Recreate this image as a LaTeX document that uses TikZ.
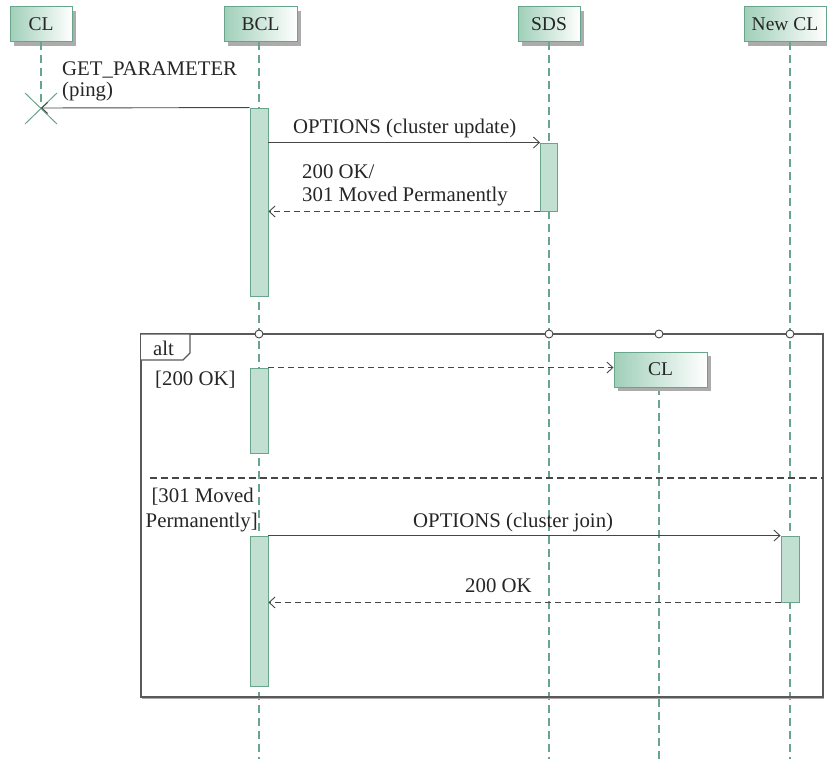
\documentclass[tikz,border=0pt]{standalone}
\usepackage{fontspec}
\setmainfont{Liberation Serif}
\usetikzlibrary{arrows.meta,shadows}
\definecolor{lgreen}{RGB}{105,165,138}
\definecolor{actfill}{RGB}{194,224,210}
\definecolor{hdrfill}{RGB}{160,207,185}
\definecolor{dgray}{RGB}{70,70,70}
\definecolor{shgray}{RGB}{172,172,172}
\tikzset{
  hdr/.style={draw=lgreen, line width=1pt, left color=hdrfill, right color=white,
    minimum height=35pt, inner sep=0pt, font=\fontsize{19.5}{22}\selectfont, text=black!85,
    drop shadow={shadow xshift=4pt, shadow yshift=-4pt, fill=shgray, opacity=1}},
  act/.style={draw=lgreen, fill=actfill, line width=0.9pt, minimum width=18pt, inner sep=0pt},
  life/.style={draw=lgreen, line width=1.1pt, dash pattern=on 8pt off 5pt},
  msg/.style={draw=dgray, line width=0.9pt, -{Straight Barb[length=6pt,width=11pt]}},
  ret/.style={msg, dash pattern=on 6pt off 4pt},
  lbl/.style={font=\fontsize{20.8}{24}\selectfont, inner sep=0pt, text=black!85},
  frm/.style={draw=dgray!90, line width=1.3pt},
  circ/.style={circle, draw=dgray, fill=white, line width=0.9pt, minimum size=8pt, inner sep=0pt},
  sepline/.style={draw=dgray, line width=1.1pt, dash pattern=on 7pt off 4pt}
}
\begin{document}
\begin{tikzpicture}[x=1pt,y=-1pt]
\useasboundingbox (0,0) rectangle (827,759);
% headers
\node[hdr, minimum width=62pt] (hcl) at (41,24.5) {CL};
\node[hdr, minimum width=73pt] (hbcl) at (260.5,24.5) {BCL};
\node[hdr, minimum width=62pt] (hsds) at (549,24.5) {SDS};
\node[hdr, minimum width=82pt] (hnew) at (785,24.5) {New CL};
\coordinate (xcl) at (41,108);
% lifelines
\draw[life] (hcl.south) -- (xcl);
\draw[life] (259,42) -- (259,759);
\draw[life] (549,42) -- (549,759);
\draw[life] (790,42) -- (790,759);
\draw[life] (659,387) -- (659,759);
% frame
\draw[shgray, line width=1pt] (142,698.8) -- (824,698.8);
\draw[frm] (141,334) rectangle (823,697);
\draw[frm, fill=white] (141,334) -- (190,334) -- (190,353) -- (183,360) -- (141,360);
\node[lbl, anchor=base west] (talt) at (153,355) {alt};
\node[circ] (o1) at (259,334) {};
\node[circ] (o2) at (549,334) {};
\node[circ] (o3) at (659,334) {};
\node[circ] (o4) at (790,334) {};
\draw[sepline] (150,478) -- (823,478);
% destruction cross
\draw[lgreen, line width=1pt] (25,93) -- (57,124) (25,124) -- (57,93);
% activations
\node[act, minimum height=188pt] (a1) at (259,202) {};
\node[act, minimum height=68pt, minimum width=17pt] (a2) at (549,177) {};
\node[act, minimum height=85pt] (a3) at (259,410.5) {};
\node[act, minimum height=150pt] (a4) at (259,611) {};
\node[act, minimum height=66pt] (a5) at (790,569) {};
% CL created
\node[hdr, minimum width=93pt] (hcl2) at (660.5,369.5) {CL};
% messages
\draw[msg] (a1.north west) -- (xcl);
\node[lbl, anchor=base west] (l1a) at (62,76) {GET\_PARAMETER};
\node[lbl, anchor=base west] (l1b) at (62,97) {(ping)};
\draw[msg] (a1.east |- a2.north) -- (a2.north west);
\node[lbl, anchor=base west] (l2) at (293,134) {OPTIONS (cluster update)};
\draw[ret] (a2.south west) -- (a1.east |- a2.south);
\node[lbl, anchor=base west] (l3a) at (302,179) {200 OK/};
\node[lbl, anchor=base west] (l3b) at (302,202) {301 Moved Permanently};
\draw[ret] (a3.north east) -- (hcl2.west |- a3.north);
\node[lbl, anchor=base west] (g1) at (155,385) {[200 OK]};
\node[lbl, anchor=base east] (g2a) at (254,502) {[301 Moved};
\node[lbl, anchor=base east] (g2b) at (258,527) {Permanently]};
\draw[msg] (a4.north east) -- (a5.north west);
\node[lbl, anchor=base west] (l4) at (413,527) {OPTIONS (cluster join)};
\draw[ret] (a5.south west) -- (a4.east |- a5.south);
\node[lbl, anchor=base west] (l5) at (465,592) {200 OK};
\end{tikzpicture}
\end{document}
